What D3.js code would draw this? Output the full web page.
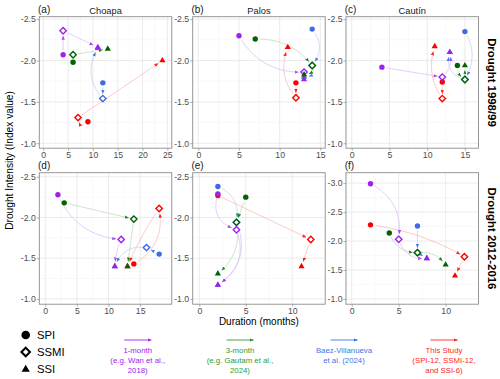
<!DOCTYPE html>
<html>
<head>
<meta charset="utf-8">
<script src="https://cdn.jsdelivr.net/npm/d3@7"></script>
<style>
  body { margin: 0; background: #fff; }
  text { font-family: "Liberation Sans", Arial, sans-serif; }
</style>
</head>
<body>
<svg id="chart" width="500" height="379"></svg>
<script>
// ---- data ----
const panelTags = ['(a)', '(b)', '(c)', '(d)', '(e)', '(f)'];
const siteNames = ['Choapa', 'Palos', 'Cautín', '', '', ''];
const droughtLabels = ['Drought 1998/99', 'Drought 2012-2016'];
const indexNames = ['SPI', 'SSMI', 'SSI'];

const xTicks = [[0, 5, 10, 15, 20, 25], [0, 5, 10, 15], [0, 5, 10, 15], [0, 5, 10, 15], [0, 5, 10], [0, 5, 10]];
const yTicks = [[-2.5, -2, -1.5, -1], [-2.5, -2, -1.5, -1], [-2.5, -2, -1.5, -1],
                [-2.5, -2, -1.5, -1], [-2.5, -2, -1.5, -1], [-3, -2.5, -2, -1.5, -1]];

// duration (months) and intensity of [SPI, SSMI, SSI], one row per panel a-f
const durThisStudy = [[9, 7, 24], [12, 12, 11], [12, 12, 11], [14, 18, 13], [2, 12, 11], [2, 12, 11]];
const intThisStudy = [[-1.26, -1.31, -2.00], [-1.73, -1.55, -2.16], [-1.74, -1.54, -2.17],
                      [-1.43, -2.11, -1.40], [-2.27, -1.73, -1.40], [-2.28, -1.73, -1.40]];
const durBaez = [[12, 12, 11], [14, 14, 13], [15, 15, 13], [18, 16, 11], [2, 4, 2], [7, 7, 8]];
const intBaez = [[-1.73, -1.54, -2.15], [-2.38, -1.94, -1.80], [-2.35, -1.77, -2.10],
                 [-1.55, -1.63, -1.40], [-2.38, -1.94, -1.17], [-2.26, -1.80, -1.70]];
const durThreeMonth = [[6, 6, 13], [7, 14, 13], [14, 15, 15], [3, 14, 13], [5, 4, 2], [4, 7, 10]];
const intThreeMonth = [[-1.98, -2.07, -2.14], [-2.26, -1.94, -1.83], [-1.94, -1.77, -1.94],
                       [-2.18, -1.98, -1.40], [-2.25, -1.94, -1.31], [-2.14, -1.80, -1.59]];
const durOneMonth = [[4, 4, 11], [5, 13, 13], [4, 12, 13], [2, 12, 11], [2, 4, 2], [2, 5, 8]];
const intOneMonth = [[-2.07, -2.36, -2.16], [-2.30, -1.86, -1.77], [-1.92, -1.80, -2.10],
                     [-2.28, -1.73, -1.40], [-2.29, -1.85, -1.17], [-2.99, -2.03, -1.70]];

// bend of each arrow (SPI->SSMI, SSMI->SSI)
const bendThisStudy = [[-1.0, 0], [0, -0.3], [0, -0.25], [0.35, 0.05], [0, 0], [-0.1, 0]];
const bendBaez = [[0, -0.36], [-0.4, -0.7], [-0.3, -0.5], [0, 0.4], [-0.4, -0.4], [0, 0]];
const bendThreeMonth = [[-0.6, 0], [-0.25, -0.6], [0.3, 0], [0, 0], [0, -0.3], [0.35, -0.3]];
const bendOneMonth = [[0, 0], [0.3, 0.8], [0, 0.3], [0.3, 0.1], [0.5, -0.4], [-0.35, 0.4]];

const legendArrowText = [
  ['1-month', '(e.g. Wan et al.,', '2018)'],
  ['3-month', '(e.g. Gautam et al.,', '2024)'],
  ['Baez-Villanueva', 'et al. (2024)'],
  ['This Study', '(SPI-12, SSMI-12,', 'and SSI-6)']
];

// ---- layout ----
const panelLeft = [39.3, 192.7, 346];
const panelTop = [16.7, 172.7];
const panelW = 132.5, panelH = 131.5;
const xLimits = [[-0.8, 25.9], [-0.69, 15.6], [-0.76, 16.8], [-0.94, 20.0], [-0.71, 13.55], [-0.61, 13.5]];
const yLimits = [[-2.53, -0.94], [-2.53, -0.94], [-2.53, -0.94], [-2.55, -0.935], [-2.55, -0.935], [-3.18, -0.91]];

const series = [
  { dur: durThisStudy, val: intThisStudy, bend: bendThisStudy, color: '#ff0000', head: '#ff2020', line: '#ffb3b3' },
  { dur: durBaez, val: intBaez, bend: bendBaez, color: '#4169e1', head: '#3f7ae8', line: '#b6cdf5' },
  { dur: durThreeMonth, val: intThreeMonth, bend: bendThreeMonth, color: '#006400', head: '#1f8a1f', line: '#b2d8b2' },
  { dur: durOneMonth, val: intOneMonth, bend: bendOneMonth, color: '#a020f0', head: '#a94cf0', line: '#dcb6f7' }
];
const legendColors = ['#a020f0', '#2f9a2f', '#3a78e6', '#ff2626'];
const legendCenters = [137.7, 240, 344, 444];

const svg = d3.select('#chart');
const defs = svg.append('defs');

series.forEach((s, i) => {
  defs.append('marker')
    .attr('id', 'head' + i)
    .attr('viewBox', '0 0 10 10')
    .attr('refX', 9).attr('refY', 5)
    .attr('markerUnits', 'userSpaceOnUse')
    .attr('markerWidth', 4.2).attr('markerHeight', 4.2)
    .attr('orient', 'auto')
    .append('path')
    .attr('d', 'M0,1 L10,5 L0,9 Z')
    .attr('fill', s.head);
});
legendColors.forEach((c, i) => {
  defs.append('marker')
    .attr('id', 'lhead' + i)
    .attr('viewBox', '0 0 10 10')
    .attr('refX', 9).attr('refY', 5)
    .attr('markerUnits', 'userSpaceOnUse')
    .attr('markerWidth', 4).attr('markerHeight', 4)
    .attr('orient', 'auto')
    .append('path')
    .attr('d', 'M0,1 L10,5 L0,9 Z')
    .attr('fill', c);
});

function curvePts(p0, p2, c) {
  const dx = p2[0] - p0[0], dy = p2[1] - p0[1];
  const cx = (p0[0] + p2[0]) / 2 - dy * c;
  const cy = (p0[1] + p2[1]) / 2 + dx * c;
  return d3.range(0, 1.0001, 1 / 120).map(t => [
    (1 - t) * (1 - t) * p0[0] + 2 * (1 - t) * t * cx + t * t * p2[0],
    (1 - t) * (1 - t) * p0[1] + 2 * (1 - t) * t * cy + t * t * p2[1]
  ]);
}

const line = d3.line();

panelTags.forEach((tag, p) => {
  const row = Math.floor(p / 3), col = p % 3;
  const x = d3.scaleLinear().domain(xLimits[p]).range([0, panelW]);
  const y = d3.scaleLinear().domain(yLimits[p]).range([0, panelH]);
  const g = svg.append('g').attr('transform', `translate(${panelLeft[col]},${panelTop[row]})`);

  const xMinor = d3.pairs(xTicks[p]).map(([a, b]) => (a + b) / 2);
  const yMinor = d3.pairs(yTicks[p]).map(([a, b]) => (a + b) / 2);

  g.selectAll('.mx').data(xMinor).enter().append('line')
    .attr('x1', d => x(d)).attr('x2', d => x(d)).attr('y1', 0).attr('y2', panelH)
    .attr('stroke', '#f2f2f2').attr('stroke-width', 0.5);
  g.selectAll('.my').data(yMinor).enter().append('line')
    .attr('y1', d => y(d)).attr('y2', d => y(d)).attr('x1', 0).attr('x2', panelW)
    .attr('stroke', '#f2f2f2').attr('stroke-width', 0.5);
  g.selectAll('.gx').data(xTicks[p]).enter().append('line')
    .attr('x1', d => x(d)).attr('x2', d => x(d)).attr('y1', 0).attr('y2', panelH)
    .attr('stroke', '#e3e3e3').attr('stroke-width', 0.7);
  g.selectAll('.gy').data(yTicks[p]).enter().append('line')
    .attr('y1', d => y(d)).attr('y2', d => y(d)).attr('x1', 0).attr('x2', panelW)
    .attr('stroke', '#e3e3e3').attr('stroke-width', 0.7);

  // axes
  const ax = g.append('g').attr('transform', `translate(0,${panelH})`)
    .call(d3.axisBottom(x).tickValues(xTicks[p]).tickSize(2.5).tickPadding(0.8).tickFormat(d => d));
  const ay = g.append('g')
    .call(d3.axisLeft(y).tickValues(yTicks[p]).tickSize(2.5).tickPadding(1).tickFormat(d => d.toFixed(1)));
  [ax, ay].forEach(a => {
    a.select('.domain').remove();
    a.selectAll('line').attr('stroke', '#8c8c8c').attr('stroke-width', 0.7);
    a.selectAll('text').attr('fill', '#4d4d4d').style('font-size', '8.7px')
      .style('font-family', '"Liberation Sans", Arial, sans-serif');
  });

  // arrows
  series.forEach((s, si) => {
    for (let k = 0; k < 2; k++) {
      const p0 = [x(s.dur[p][k]), y(s.val[p][k])];
      const p2 = [x(s.dur[p][k + 1]), y(s.val[p][k + 1])];
      const pts = curvePts(p0, p2, s.bend[p][k]);
      let i0 = pts.findIndex(q => Math.hypot(q[0] - p0[0], q[1] - p0[1]) >= 4.5);
      let i1 = -1;
      for (let j = pts.length - 1; j >= 0; j--) {
        if (Math.hypot(pts[j][0] - p2[0], pts[j][1] - p2[1]) >= 5) { i1 = j; break; }
      }
      if (i0 < 0 || i1 - i0 < 2) continue;
      g.append('path')
        .attr('d', line(pts.slice(i0, i1 + 1)))
        .attr('fill', 'none')
        .attr('stroke', s.line)
        .attr('stroke-width', 0.8)
        .attr('marker-end', `url(#head${si})`);
    }
  });

  // points: circles, then diamonds, then triangles
  series.forEach(s => {
    g.append('circle')
      .attr('cx', x(s.dur[p][0])).attr('cy', y(s.val[p][0])).attr('r', 2.7)
      .attr('fill', s.color);
  });
  series.forEach(s => {
    const cx = x(s.dur[p][1]), cy = y(s.val[p][1]), h = 3.2;
    g.append('path')
      .attr('d', `M${cx},${cy - h}L${cx + h},${cy}L${cx},${cy + h}L${cx - h},${cy}Z`)
      .attr('fill', '#fff').attr('stroke', s.color).attr('stroke-width', 1.4);
  });
  series.forEach(s => {
    const cx = x(s.dur[p][2]), cy = y(s.val[p][2]);
    g.append('path')
      .attr('d', `M${cx},${cy - 3.6}L${cx + 3.1},${cy + 1.8}L${cx - 3.1},${cy + 1.8}Z`)
      .attr('fill', s.color);
  });

  // border
  g.append('rect').attr('width', panelW).attr('height', panelH)
    .attr('fill', 'none').attr('stroke', '#8c8c8c').attr('stroke-width', 0.9);

  // strip titles
  g.append('text').attr('x', -1.3).attr('y', -3.4).text(tag)
    .style('font-size', '10px').attr('fill', '#1a1a1a');
  if (siteNames[p]) {
    g.append('text').attr('x', panelW / 2).attr('y', -3.2).attr('text-anchor', 'middle')
      .text(siteNames[p]).style('font-size', '9.3px').attr('fill', '#1a1a1a');
  }
});

// right strip labels
droughtLabels.forEach((lab, r) => {
  svg.append('text')
    .attr('transform', `translate(491.5,${panelTop[r] + panelH / 2}) rotate(90)`)
    .attr('text-anchor', 'middle').attr('dominant-baseline', 'central')
    .style('font-size', '11.4px').style('font-weight', 'bold')
    .text(lab);
});

// axis titles
svg.append('text')
  .attr('transform', `translate(9,${(panelTop[0] + panelTop[1] + panelH) / 2}) rotate(-90)`)
  .attr('text-anchor', 'middle').attr('dominant-baseline', 'central')
  .style('font-size', '10.2px').text('Drought Intensity (Index value)');
svg.append('text')
  .attr('x', (panelLeft[0] + panelLeft[2] + panelW) / 2).attr('y', 324.5)
  .attr('text-anchor', 'middle').style('font-size', '10px').text('Duration (months)');

// shape legend
const shapeRows = [335, 352, 369];
svg.append('circle').attr('cx', 25.7).attr('cy', shapeRows[0]).attr('r', 4.3).attr('fill', '#000');
svg.append('path')
  .attr('d', `M25.7,${shapeRows[1] - 4.3}L30,${shapeRows[1]}L25.7,${shapeRows[1] + 4.3}L21.4,${shapeRows[1]}Z`)
  .attr('fill', '#fff').attr('stroke', '#000').attr('stroke-width', 2);
svg.append('path')
  .attr('d', `M25.7,${shapeRows[2] - 4.2}L29.8,${shapeRows[2] + 2.8}L21.6,${shapeRows[2] + 2.8}Z`)
  .attr('fill', '#000');
indexNames.forEach((n, i) => {
  svg.append('text').attr('x', 37).attr('y', shapeRows[i] + 4)
    .style('font-size', '11.3px').text(n);
});

// arrow legend
legendArrowText.forEach((lines, i) => {
  const cx = legendCenters[i];
  svg.append('line')
    .attr('x1', cx - 13.5).attr('x2', cx + 13.5).attr('y1', 340).attr('y2', 340)
    .attr('stroke', legendColors[i]).attr('stroke-width', 0.9)
    .attr('marker-end', `url(#lhead${i})`);
  lines.forEach((t, j) => {
    svg.append('text').attr('x', cx).attr('y', 352.8 + j * 10.3)
      .attr('text-anchor', 'middle').attr('fill', legendColors[i])
      .style('font-size', '7.8px').text(t);
  });
});
</script>
</body>
</html>
